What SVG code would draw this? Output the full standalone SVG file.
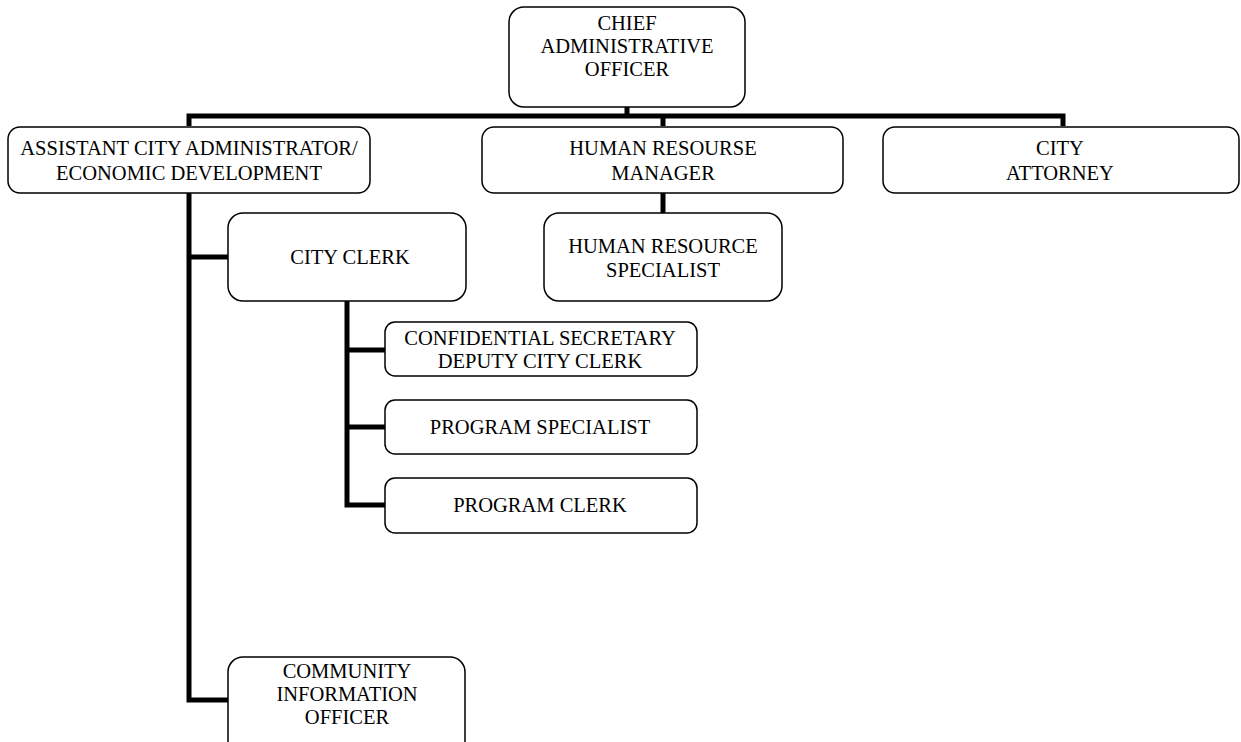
<svg xmlns="http://www.w3.org/2000/svg" width="1241" height="742" viewBox="0 0 1241 742">
<style>
.box{fill:#fff;stroke:#000;stroke-width:1.5}
.t{font-family:"Liberation Serif","Times New Roman",serif;font-size:20.5px;fill:#000;text-anchor:middle}
.c{fill:none;stroke:#000;stroke-width:5;stroke-linejoin:miter}
</style>
<rect width="1241" height="742" fill="#fff"/>
<g id="connectors">
<path class="c" d="M627 107V116M189 126V116H1063V126M663 116V126"/>
<path class="c" d="M663 193V213"/>
<path class="c" d="M189 193V700H228M189 257H228"/>
<path class="c" d="M347 301V505H385M347 350H385M347 427H385"/>
</g>
<g id="cao"><rect class="box" x="509" y="7" width="236" height="100" rx="15"/>
<text class="t" x="627" y="30">CHIEF</text><text class="t" x="627" y="53">ADMINISTRATIVE</text><text class="t" x="627" y="76">OFFICER</text></g>
<g id="aca"><rect class="box" x="8" y="127" width="362" height="66" rx="12"/>
<text class="t" x="189" y="155">ASSISTANT CITY ADMINISTRATOR/</text><text class="t" x="189" y="180">ECONOMIC DEVELOPMENT</text></g>
<g id="hrm"><rect class="box" x="482" y="127" width="361" height="66" rx="12"/>
<text class="t" x="663" y="155">HUMAN RESOURSE</text><text class="t" x="663" y="180">MANAGER</text></g>
<g id="attorney"><rect class="box" x="883" y="127" width="356" height="66" rx="12"/>
<text class="t" x="1060" y="155">CITY</text><text class="t" x="1060" y="180">ATTORNEY</text></g>
<g id="hrs"><rect class="box" x="544" y="213" width="238" height="88" rx="15"/>
<text class="t" x="663" y="253">HUMAN RESOURCE</text><text class="t" x="663" y="277">SPECIALIST</text></g>
<g id="clerk"><rect class="box" x="228" y="213" width="238" height="88" rx="15"/>
<text class="t" x="350" y="264">CITY CLERK</text></g>
<g id="confsec"><rect class="box" x="385" y="322" width="312" height="54" rx="10"/>
<text class="t" x="540" y="345">CONFIDENTIAL SECRETARY</text><text class="t" x="540" y="368">DEPUTY CITY CLERK</text></g>
<g id="progspec"><rect class="box" x="385" y="400" width="312" height="54" rx="10"/>
<text class="t" x="540" y="434">PROGRAM SPECIALIST</text></g>
<g id="progclerk"><rect class="box" x="385" y="478" width="312" height="55" rx="10"/>
<text class="t" x="540" y="512">PROGRAM CLERK</text></g>
<g id="cio"><rect class="box" x="228" y="657" width="237" height="100" rx="15"/>
<text class="t" x="347" y="678">COMMUNITY</text><text class="t" x="347" y="701">INFORMATION</text><text class="t" x="347" y="724">OFFICER</text></g>
</svg>
